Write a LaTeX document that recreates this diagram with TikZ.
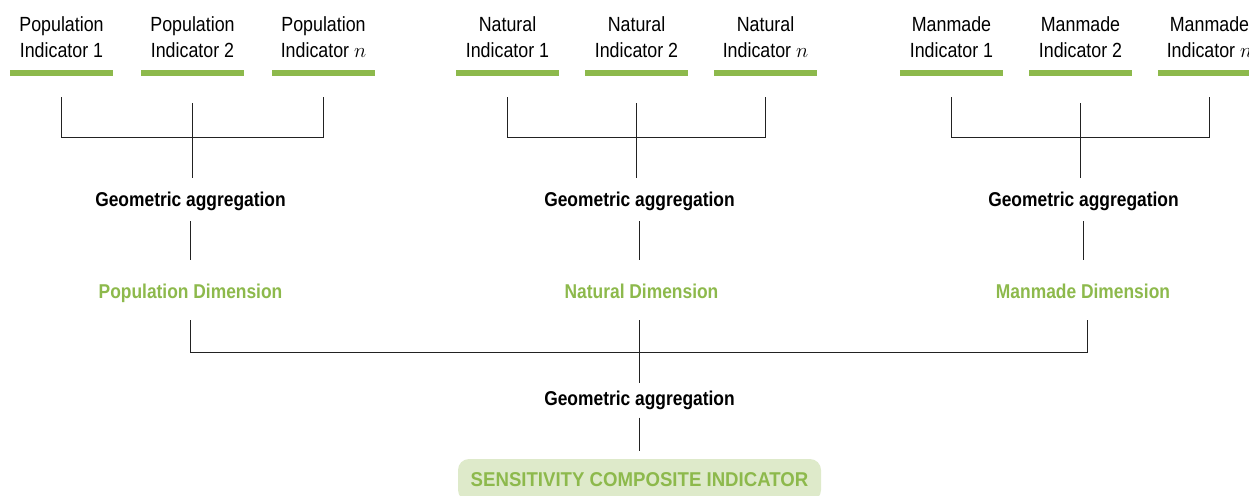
\documentclass[tikz,border=0pt]{standalone}
\usepackage{fontspec}
\setmainfont{Liberation Sans}[FakeStretch=0.87]
\definecolor{mygreen}{HTML}{8DB94C}
\definecolor{lightgreen}{HTML}{DEEACA}
\definecolor{linegray}{HTML}{222222}
\begin{document}
\begin{tikzpicture}[x=1pt,y=-1pt,
  ind/.style={align=center, font=\fontsize{20.5}{26}\selectfont, inner sep=0pt, anchor=south},
  bar/.style={fill=mygreen, minimum width=103pt, minimum height=6pt, inner sep=0pt},
  agg/.style={font=\bfseries\fontsize{20}{24}\selectfont, inner sep=0pt, anchor=base},
  dim/.style={agg, text=mygreen},
  ln/.style={draw=linegray, line width=1pt},
  result/.style={fill=lightgreen, rounded corners=11pt, minimum width=363pt, minimum height=42pt, inner sep=0pt}
]
\useasboundingbox (0,0) rectangle (1249,495);

% ---------- Population ----------
\node[ind] (pt1) at (61.5,58) {Population\\Indicator 1};
\node[ind] (pt2) at (192.5,58) {Population\\Indicator 2};
\node[ind] (pt3) at (323.5,58) {Population\\Indicator $n$};
\node[bar] (pb1) at (61.5,73) {};
\node[bar] (pb2) at (192.5,73) {};
\node[bar] (pb3) at (323.5,73) {};
\node[agg] (pa) at (190.5,206) {Geometric aggregation};
\node[dim] (pd) at (190.5,298) {Population Dimension};

% ---------- Natural ----------
\node[ind] (nt1) at (507.5,58) {Natural\\Indicator 1};
\node[ind] (nt2) at (636.5,58) {Natural\\Indicator 2};
\node[ind] (nt3) at (765.5,58) {Natural\\Indicator $n$};
\node[bar] (nb1) at (507.5,73) {};
\node[bar] (nb2) at (636.5,73) {};
\node[bar] (nb3) at (765.5,73) {};
\node[agg] (na) at (639.5,206) {Geometric aggregation};
\node[dim] (nd) at (641.5,298) {Natural Dimension};

% ---------- Manmade ----------
\node[ind] (mt1) at (951.5,58) {Manmade\\Indicator 1};
\node[ind] (mt2) at (1080.5,58) {Manmade\\Indicator 2};
\node[ind] (mt3) at (1209.5,58) {Manmade\\Indicator $n$};
\node[bar] (mb1) at (951.5,73) {};
\node[bar] (mb2) at (1080.5,73) {};
\node[bar] (mb3) at (1209.5,73) {};
\node[agg] (ma) at (1083.5,206) {Geometric aggregation};
\node[dim] (md) at (1083,298) {Manmade Dimension};

% ---------- Final ----------
\node[agg] (fa) at (639.5,405.7) {Geometric aggregation};
\node[result] (res) at (639.5,480) {};
\node[dim, anchor=base] (rest) at (639.5,486.7) {\scalebox{1.07}[1]{SENSITIVITY COMPOSITE INDICATOR}};

% ---------- Connectors ----------
\foreach \g in {p,n,m}{
  \draw[ln] ([yshift=-21pt]\g b1.south) |- ([yshift=-61pt]\g b3.south) -- ([yshift=-21pt]\g b3.south);
  \draw[ln] ([yshift=-27pt]\g b2.south) -- ([yshift=-102pt]\g b2.south);
  \draw[ln] ([yshift=-15pt]\g a.base) -- ([yshift=38pt]\g a.base |- \g d.base);
}
\draw[ln] ([yshift=-22pt]pd.base) |- ([xshift=4pt,yshift=-54pt]md.base) -- ([xshift=4pt,yshift=-22pt]md.base);
\draw[ln] ([yshift=-22pt]nd.base -| fa.base) -- ([yshift=23pt]fa.base);
\draw[ln] ([yshift=-12pt]fa.base) -- ([yshift=8pt]fa.base |- res.north);
\end{tikzpicture}
\end{document}
